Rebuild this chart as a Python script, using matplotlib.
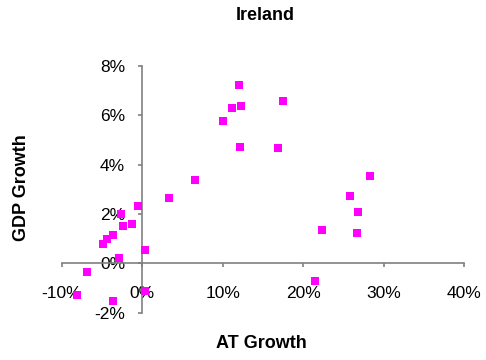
import matplotlib
matplotlib.use("Agg")
import matplotlib.pyplot as plt
from matplotlib.ticker import FuncFormatter

plt.rcParams['font.family'] = ['Liberation Sans', 'DejaVu Sans']

# croissance AT (%) et croissance du PIB (%)
at_growth = [11.99, 11.17, 12.32, 10.0, 12.1, 6.53, 3.39, -0.58, -2.69, -2.4,
             -1.24, -3.6, -4.43, -4.84, -2.82, 0.32, -6.82, -8.06, -3.6, 0.41,
             17.53, 16.91, 28.33, 25.84, 26.84, 22.37, 26.71, 21.42]
gdp_growth = [7.22, 6.28, 6.37, 5.75, 4.71, 3.39, 2.64, 2.33, 1.98, 1.52,
              1.59, 1.13, 0.97, 0.79, 0.23, 0.53, -0.36, -1.28, -1.51, -1.11,
              6.58, 4.68, 3.53, 2.74, 2.09, 1.35, 1.23, -0.72]

x_ticks = [-10, 0, 10, 20, 30, 40]
y_ticks = [-2, 0, 2, 4, 6, 8]

fig = plt.figure(figsize=(4.86, 3.6), dpi=100)
ax = fig.add_axes([0.127, 0.1314, 0.8278, 0.686])

ax.scatter(at_growth, gdp_growth, marker='s', s=36, color='#FF00FF',
           linewidths=0, zorder=3, clip_on=False)

ax.set_xlim(-10, 40)
ax.set_ylim(-2, 8)
ax.set_xticks(x_ticks)
ax.set_yticks(y_ticks)
pct = FuncFormatter(lambda v, p: f"{v:.0f}%")
ax.xaxis.set_major_formatter(pct)
ax.yaxis.set_major_formatter(pct)

# axes croisés en zéro, style Excel
ax.spines['left'].set_position(('data', 0))
ax.spines['bottom'].set_position(('data', 0))
ax.spines['right'].set_visible(False)
ax.spines['top'].set_visible(False)
for s in ['left', 'bottom']:
    ax.spines[s].set_color('#808080')
    ax.spines[s].set_linewidth(1.2)

ax.tick_params(axis='both', direction='out', length=3.2, width=1.2,
               color='#808080', labelsize=12.5, labelcolor='black')
ax.tick_params(axis='x', pad=13)
ax.tick_params(axis='y', pad=9)

fig.text(265.5 / 486, 1 - 15 / 360, "Ireland", ha='center', va='center',
         fontsize=13, fontweight='bold')
fig.text(261.7 / 486, 1 - 344 / 360, "AT Growth", ha='center', va='center',
         fontsize=13, fontweight='bold')
fig.text(22 / 486, 1 - 188 / 360, "GDP Growth", ha='center', va='center',
         fontsize=13, fontweight='bold', rotation=90)

plt.savefig("out.png", dpi=100)
plt.close()
